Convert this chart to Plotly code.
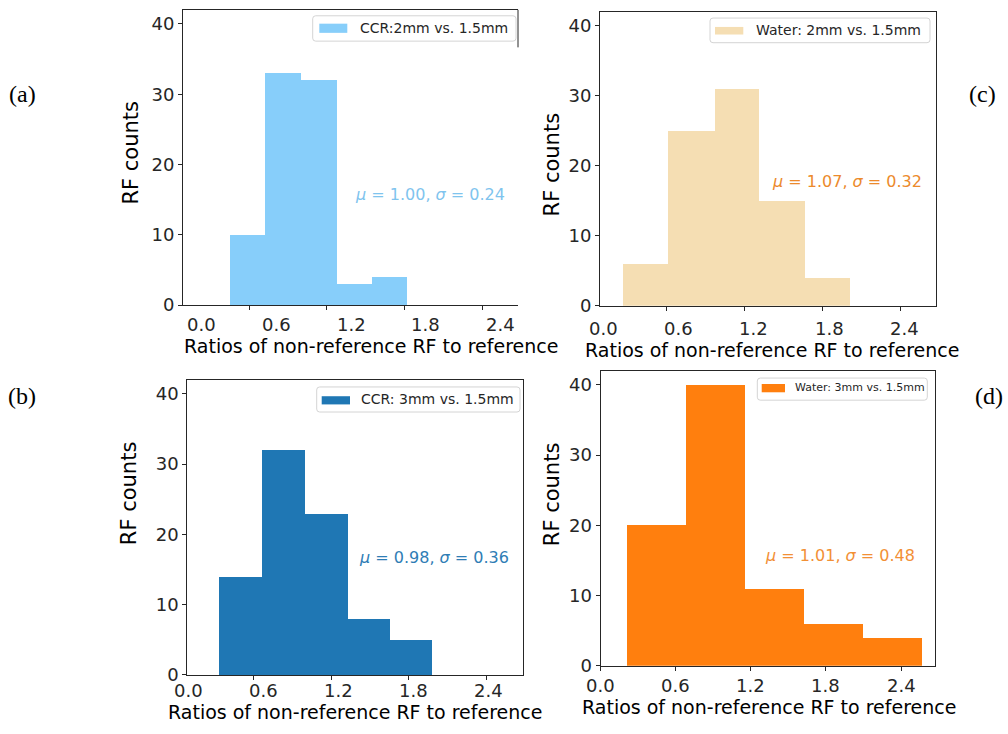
import plotly.graph_objects as go

W, H = 1008, 734

# Histogram bin edges and counts for each thickness comparison
ccr_2mm_edges = [0.45, 0.72, 1.00, 1.28, 1.55, 1.82]
ccr_2mm_counts = [10, 33, 32, 3, 4]
ccr_3mm_edges = [0.34, 0.67, 1.00, 1.33, 1.66, 1.98]
ccr_3mm_counts = [14, 32, 23, 8, 5]
water_2mm_edges = [0.26, 0.61, 0.97, 1.31, 1.67, 2.01]
water_2mm_counts = [6, 25, 31, 15, 4]
water_3mm_edges = [0.21, 0.68, 1.15, 1.62, 2.09, 2.56]
water_3mm_counts = [20, 40, 11, 6, 4]

series_names = ["CCR:2mm vs. 1.5mm", "CCR: 3mm vs. 1.5mm",
                "Water: 2mm vs. 1.5mm", "Water: 3mm vs. 1.5mm"]
means = [1.00, 0.98, 1.07, 1.01]
stds = [0.24, 0.36, 0.32, 0.48]
panel_tags = ["(a)", "(b)", "(c)", "(d)"]

x_ticks = [0.0, 0.6, 1.2, 1.8, 2.4]
y_ticks = [0, 10, 20, 30, 40]
x_title = "Ratios of non-reference RF to reference"
y_title = "RF counts"

SANS = "DejaVu Sans"
SERIF = "Liberation Serif"
INK = "#262626"


def px(v):
    return v / W


def py(v):
    return 1 - v / H


# Per-panel styling and placement (pixel boxes: left, top, right, bottom)
panels = [
    dict(edges=ccr_2mm_edges, counts=ccr_2mm_counts, color="#87CEFA", text_color="#7fc4ee",
         box=(183, 10, 518, 309.3), xrange=(0.091, 2.674), stat_xy=(1.40, 15.7),
         tick_shift=(30.8, -5.46), tick_drop=19.5, right_spine_to=48,
         legend=dict(box=(312.7, 16, 516, 41.7), patch=(319.3, 24, 347.3, 33.3),
                     tx=358, ty=28.3, size=14),
         ytitle=(130.7, 155), xtitle=(370.5, 351), tag=(22, 95)),
    dict(edges=ccr_3mm_edges, counts=ccr_3mm_counts, color="#1f77b4", text_color="#2f7db5",
         box=(187.3, 385, 522.7, 684.3), xrange=(0.089, 2.68), stat_xy=(1.40, 16.7),
         tick_shift=(12.5, -4.3), tick_drop=15.5, right_spine_to=None,
         legend=dict(box=(316.7, 392.3, 520, 417.7), patch=(321.7, 401.7, 350, 410),
                     tx=359, ty=405, size=14),
         ytitle=(129, 500), xtitle=(355, 722), tag=(22, 401)),
    dict(edges=water_2mm_edges, counts=water_2mm_counts, color="#F5DEB3", text_color="#ec8a2c",
         box=(600, 11.7, 936, 310), xrange=(0.086, 2.676), stat_xy=(1.40, 17.8),
         tick_shift=(15.0, -4.6), tick_drop=22.8, right_spine_to=None,
         legend=dict(box=(710, 18.3, 930, 43.3), patch=(715, 27.3, 743.3, 35),
                     tx=754, ty=30.7, size=14),
         ytitle=(552, 166.7), xtitle=(771.5, 355), tag=(982, 95)),
    dict(edges=water_3mm_edges, counts=water_3mm_counts, color="#ff7f0e", text_color="#f29036",
         box=(600.6, 376, 935, 675), xrange=(0.0, 2.671), stat_xy=(1.30, 15.7),
         tick_shift=(0.0, 0.0), tick_drop=19.5, right_spine_to=None,
         legend=dict(box=(757.3, 383.3, 927.3, 405.7), patch=(761.7, 389.3, 785, 397.7),
                     tx=792.5, ty=392.7, size=11),
         ytitle=(552, 501), xtitle=(768.5, 716.5), tag=(989, 401)),
]


def rounded_rect(x0, y0, x1, y1, r=3):
    return (f"M {px(x0 + r)},{py(y0)} L {px(x1 - r)},{py(y0)} "
            f"Q {px(x1)},{py(y0)} {px(x1)},{py(y0 + r)} "
            f"L {px(x1)},{py(y1 - r)} Q {px(x1)},{py(y1)} {px(x1 - r)},{py(y1)} "
            f"L {px(x0 + r)},{py(y1)} Q {px(x0)},{py(y1)} {px(x0)},{py(y1 - r)} "
            f"L {px(x0)},{py(y0 + r)} Q {px(x0)},{py(y0)} {px(x0 + r)},{py(y0)} Z")


fig = go.Figure()
shapes = []
annotations = []

for i, p in enumerate(panels):
    k = "" if i == 0 else str(i + 1)
    xa, ya = "x" + k, "y" + k
    edges = p["edges"]
    centers = [(a + b) / 2 for a, b in zip(edges[:-1], edges[1:])]
    widths = [b - a for a, b in zip(edges[:-1], edges[1:])]

    fig.add_trace(go.Bar(
        x=centers, y=p["counts"], width=widths, name=series_names[i],
        marker=dict(color=p["color"], line=dict(width=0)),
        xaxis=xa, yaxis=ya, showlegend=False,
    ))

    left, top, right, bottom = p["box"]
    partial = p["right_spine_to"] is not None
    axis_common = dict(showline=True, linecolor=INK, linewidth=1, ticks="outside",
                       ticklen=4, tickwidth=1, tickcolor=INK, showgrid=False,
                       zeroline=False, tickfont=dict(family=SANS, size=18, color=INK))
    fig.layout["xaxis" + k] = dict(
        axis_common, domain=[px(left), px(right)], range=list(p["xrange"]),
        anchor=ya, tickvals=x_ticks, showticklabels=False, mirror=True,
    )
    fig.layout["yaxis" + k] = dict(
        axis_common, domain=[py(bottom), py(top)], range=[0, 42],
        anchor=xa, tickvals=y_ticks, mirror=not partial,
    )
    if partial:
        shapes.append(dict(type="line", xref="paper", yref="paper",
                           x0=px(right), x1=px(right), y0=py(top), y1=py(p["right_spine_to"]),
                           line=dict(color=INK, width=1)))

    # x tick labels, placed along the axis domain so the 0.0 label stays visible
    r0, r1 = p["xrange"]
    s0, s1 = p["tick_shift"]
    for v in x_ticks:
        annotations.append(dict(
            x=(v - r0) / (r1 - r0), y=0, xref=xa + " domain", yref=ya + " domain",
            text=f"{v:.1f}", showarrow=False,
            xanchor="center", yanchor="middle", xshift=s0 + s1 * v, yshift=-p["tick_drop"],
            font=dict(family=SANS, size=18, color=INK),
        ))

    # statistics text
    sx, sy = p["stat_xy"]
    annotations.append(dict(
        x=sx, y=sy, xref=xa, yref=ya, showarrow=False, xanchor="left", yanchor="middle",
        text=f"<i>μ</i> = {means[i]:.2f}, <i>σ</i> = {stds[i]:.2f}",
        font=dict(family=SANS, size=16, color=p["text_color"]),
    ))

    # axis titles
    tx, ty = p["ytitle"]
    annotations.append(dict(
        x=px(tx), y=py(ty), xref="paper", yref="paper", text=y_title, showarrow=False,
        textangle=-90, xanchor="center", yanchor="middle",
        font=dict(family=SANS, size=21, color="black"),
    ))
    tx, ty = p["xtitle"]
    annotations.append(dict(
        x=px(tx), y=py(ty), xref="paper", yref="paper", text=x_title, showarrow=False,
        xanchor="center", yanchor="middle",
        font=dict(family=SANS, size=19, color="black"),
    ))

    # legend frame, swatch and label
    lg = p["legend"]
    shapes.append(dict(type="path", xref="paper", yref="paper", path=rounded_rect(*lg["box"]),
                       fillcolor="rgba(255,255,255,0.8)", line=dict(color="#d4d4d4", width=1)))
    bx0, by0, bx1, by1 = lg["patch"]
    shapes.append(dict(type="rect", xref="paper", yref="paper",
                       x0=px(bx0), x1=px(bx1), y0=py(by1), y1=py(by0),
                       fillcolor=p["color"], line=dict(width=0)))
    annotations.append(dict(
        x=px(lg["tx"]), y=py(lg["ty"]), xref="paper", yref="paper", text=series_names[i],
        showarrow=False, xanchor="left", yanchor="middle",
        font=dict(family=SANS, size=lg["size"], color=INK),
    ))

    # panel tag
    gx, gy = p["tag"]
    annotations.append(dict(
        x=px(gx), y=py(gy), xref="paper", yref="paper", text=panel_tags[i], showarrow=False,
        xanchor="center", yanchor="middle", font=dict(family=SERIF, size=24, color="black"),
    ))

fig.update_layout(
    width=W, height=H, margin=dict(l=0, r=0, t=0, b=0),
    paper_bgcolor="white", plot_bgcolor="white",
    bargap=0, shapes=shapes, annotations=annotations,
)

fig.write_html("out.html")
